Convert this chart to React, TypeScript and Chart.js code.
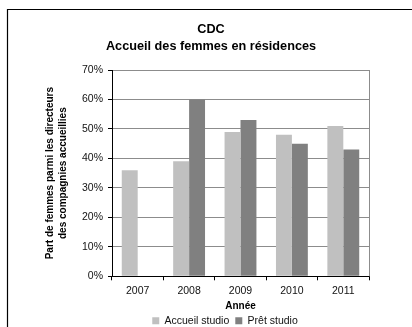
import React, { useEffect, useRef } from "react";
import { Chart, registerables } from "chart.js";

Chart.register(...registerables);

const years = ["2007", "2008", "2009", "2010", "2011"];
const accueilStudio = [36, 39, 49, 48, 51];
const pretStudio: (number | null)[] = [null, 60, 53, 45, 43];
const titleLines = ["CDC", "Accueil des femmes en résidences"];
const yTitleLines = ["Part de femmes parmi les directeurs", "des compagnies accueillies"];
const xTitle = "Année";
const seriesNames = ["Accueil studio", "Prêt studio"];

const FONT = "'Liberation Sans', Arial, sans-serif";

const framePlugin = {
  id: "frame",
  beforeDraw(chart: any) {
    const lg = chart.legend;
    if (lg && !lg._shifted) {
      lg.left += 14;
      lg.right += 14;
      lg._shifted = true;
    }
  },
  beforeDatasetsDraw(chart: any) {
    const { ctx, chartArea } = chart;
    ctx.save();
    ctx.strokeStyle = "#8c8c8c";
    ctx.lineWidth = 1;
    ctx.beginPath();
    ctx.moveTo(Math.round(chartArea.right) + 0.5, chartArea.top);
    ctx.lineTo(Math.round(chartArea.right) + 0.5, chartArea.bottom);
    ctx.stroke();
    ctx.restore();
  },
  afterDraw(chart: any) {
    const { ctx } = chart;
    ctx.save();
    ctx.strokeStyle = "#000";
    ctx.lineWidth = 1.2;
    ctx.beginPath();
    ctx.moveTo(7.5, 400);
    ctx.lineTo(7.5, 9.5);
    ctx.lineTo(420, 9.5);
    ctx.stroke();
    ctx.restore();
  },
};

export default function App() {
  const ref = useRef<HTMLCanvasElement | null>(null);
  useEffect(() => {
    if (!ref.current) return;
    const chart = new Chart(ref.current, {
      type: "bar",
      data: {
        labels: years,
        datasets: [
          { label: seriesNames[0], data: accueilStudio, backgroundColor: "#c0c0c0", borderWidth: 0 },
          { label: seriesNames[1], data: pretStudio, backgroundColor: "#808080", borderWidth: 0 },
        ],
      },
      options: {
        responsive: false,
        animation: false,
        devicePixelRatio: 1,
        layout: { padding: { left: 10, right: 0, top: 0, bottom: -9 } },
        datasets: { bar: { categoryPercentage: 0.62, barPercentage: 1 } },
        plugins: {
          title: {
            display: true,
            text: titleLines,
            color: "#000",
            font: { family: FONT, size: 12.7, weight: "bold", lineHeight: "17px" },
            padding: { top: 20.5, bottom: 15.5 },
          },
          legend: {
            position: "bottom",
            labels: {
              color: "#111",
              boxWidth: 7,
              boxHeight: 7,
              padding: 6,
              font: { family: FONT, size: 10.5 },
            },
          },
          tooltip: { enabled: false },
        },
        scales: {
          x: {
            grid: {
              display: true,
              drawOnChartArea: false,
              offset: true,
              tickLength: 4,
              tickColor: "#000",
            },
            border: { color: "#000", width: 1 },
            ticks: { color: "#111", padding: 4.7, font: { family: FONT, size: 10.5 } },
            title: {
              display: true,
              text: xTitle,
              color: "#000",
              font: { family: FONT, size: 10, weight: "bold" },
              padding: { top: -2.3, bottom: -2.5 },
            },
          },
          y: {
            min: 0,
            max: 70,
            afterFit: (s: any) => {
              s.width = 102;
            },
            grid: { color: "#8c8c8c", tickColor: "#000", tickLength: 4 },
            border: { color: "#000", width: 1 },
            ticks: {
              stepSize: 10,
              color: "#111",
              padding: 5,
              font: { family: FONT, size: 10.5 },
              callback: (v: any) => v + "%",
            },
            title: {
              display: true,
              text: yTitleLines,
              color: "#000",
              font: { family: FONT, size: 10, weight: "bold", lineHeight: "13px" },
              padding: { top: 33.5, bottom: 0 },
            },
          },
          yR: {
            position: "right",
            display: true,
            afterFit: (s: any) => {
              s.width = 43;
            },
            grid: { display: false, drawTicks: false },
            border: { display: false },
            ticks: { display: false },
          },
        },
      },
      plugins: [framePlugin],
    } as any);
    return () => chart.destroy();
  }, []);
  return (
    <div style={{ position: "absolute", left: 0, top: 0, width: 412, height: 327, background: "#fff" }}>
      <canvas ref={ref} width={412} height={327} style={{ display: "block" }} />
    </div>
  );
}
